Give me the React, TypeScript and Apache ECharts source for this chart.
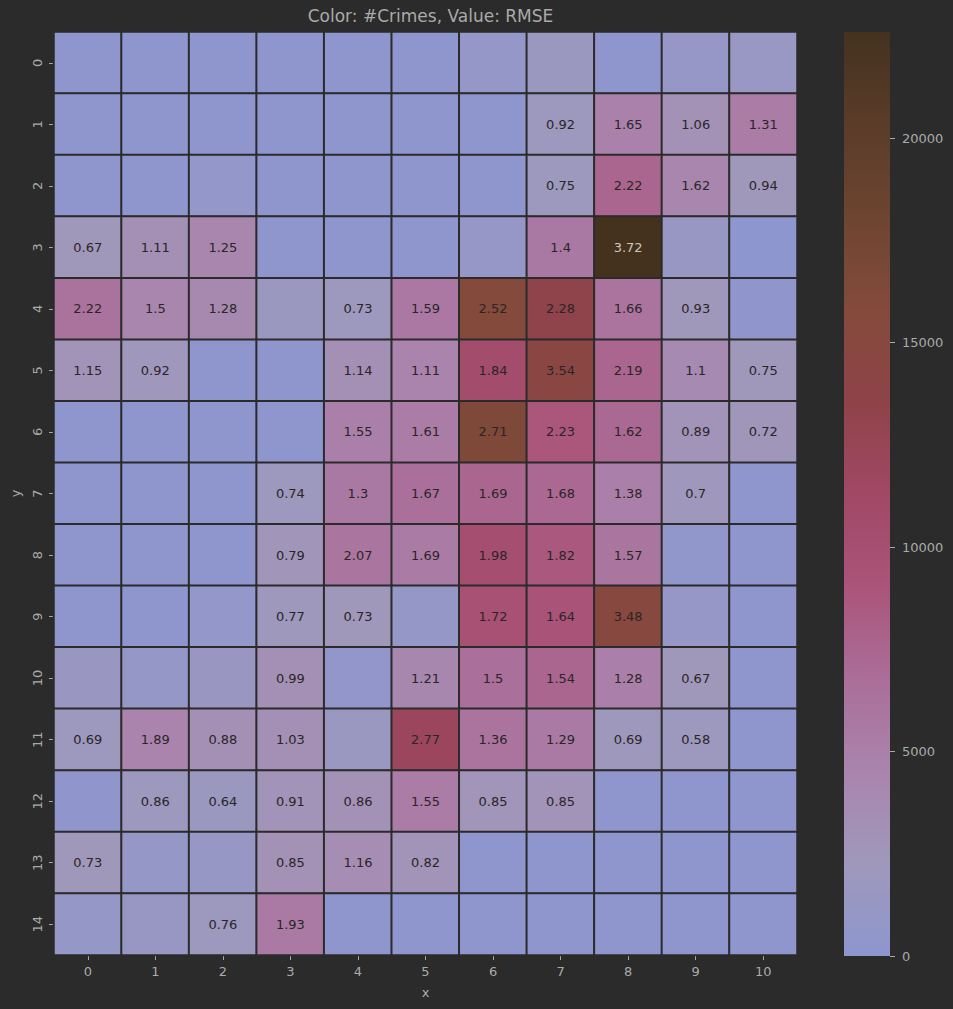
import React, { useEffect, useRef } from "react";
import * as echarts from "echarts";

const xLabels = ["0", "1", "2", "3", "4", "5", "6", "7", "8", "9", "10"];
const yLabels = ["0", "1", "2", "3", "4", "5", "6", "7", "8", "9", "10", "11", "12", "13", "14"];

const crimes: number[][] = [
  [150, 150, 150, 150, 150, 150, 800, 1700, 100, 1000, 1400],
  [150, 150, 150, 150, 150, 150, 150, 2000, 4800, 3000, 5300],
  [150, 150, 700, 150, 150, 150, 150, 2000, 7500, 4300, 2300],
  [2300, 3300, 4300, 150, 150, 150, 1000, 5600, 22600, 1300, 50],
  [6300, 4300, 4000, 1700, 2000, 5800, 15800, 13400, 6200, 2300, 300],
  [2700, 2200, 150, 150, 3300, 4500, 10600, 14500, 7500, 3800, 2300],
  [150, 150, 150, 150, 5000, 5300, 16300, 8900, 7200, 2800, 2500],
  [150, 150, 150, 2000, 5600, 6700, 7500, 7300, 5000, 2200, 150],
  [150, 150, 150, 2600, 6000, 5400, 10200, 8700, 6000, 400, 150],
  [150, 150, 700, 2100, 2300, 900, 9600, 9200, 15200, 1000, 150],
  [1500, 900, 1500, 3200, 500, 4200, 6700, 7500, 4900, 2300, 150],
  [2000, 4500, 3200, 3300, 1600, 12000, 6200, 5500, 2100, 2000, 150],
  [300, 2000, 1700, 2800, 3000, 5300, 2600, 2800, 150, 150, 150],
  [2300, 900, 1100, 3000, 3500, 2700, 150, 150, 150, 150, 150],
  [900, 1300, 2000, 5500, 150, 150, 150, 150, 150, 150, 150],
];

const n = null;
// RMSE annotations
const rmse: (number | null)[][] = [
  [n, n, n, n, n, n, n, n, n, n, n],
  [n, n, n, n, n, n, n, 0.92, 1.65, 1.06, 1.31],
  [n, n, n, n, n, n, n, 0.75, 2.22, 1.62, 0.94],
  [0.67, 1.11, 1.25, n, n, n, n, 1.4, 3.72, n, n],
  [2.22, 1.5, 1.28, n, 0.73, 1.59, 2.52, 2.28, 1.66, 0.93, n],
  [1.15, 0.92, n, n, 1.14, 1.11, 1.84, 3.54, 2.19, 1.1, 0.75],
  [n, n, n, n, 1.55, 1.61, 2.71, 2.23, 1.62, 0.89, 0.72],
  [n, n, n, 0.74, 1.3, 1.67, 1.69, 1.68, 1.38, 0.7, n],
  [n, n, n, 0.79, 2.07, 1.69, 1.98, 1.82, 1.57, n, n],
  [n, n, n, 0.77, 0.73, n, 1.72, 1.64, 3.48, n, n],
  [n, n, n, 0.99, n, 1.21, 1.5, 1.54, 1.28, 0.67, n],
  [0.69, 1.89, 0.88, 1.03, n, 2.77, 1.36, 1.29, 0.69, 0.58, n],
  [n, 0.86, 0.64, 0.91, 0.86, 1.55, 0.85, 0.85, n, n, n],
  [0.73, n, n, 0.85, 1.16, 0.82, n, n, n, n, n],
  [n, n, 0.76, 1.93, n, n, n, n, n, n, n],
];

const colorMin = 0;
const colorMax = 22600;
const colorTicks = [0, 5000, 10000, 15000, 20000];

const palette = [
  "#8e96cf",
  "#9f98bb",
  "#aa84ad",
  "#aa6e99",
  "#ab5479",
  "#a14866",
  "#8e4348",
  "#844a3b",
  "#6d4531",
  "#5a3c29",
  "#44321f",
];

const BG = "#2b2b2b";
const FG = "#aaaaaa";
const FONT = "DejaVu Sans";

export default function App() {
  const ref = useRef<HTMLDivElement>(null);

  useEffect(() => {
    if (!ref.current) return;
    const chart = echarts.init(ref.current, null, { renderer: "svg" });

    const data: any[] = [];
    crimes.forEach((row, yi) => {
      row.forEach((v, xi) => {
        data.push({
          value: [xi, yi, v],
          rmse: rmse[yi][xi],
          label: { color: v > 19000 ? "#cfc6b8" : "#2a2626" },
        });
      });
    });

    const gridLeft = 54;
    const gridTop = 32;
    const gridW = 743;
    const gridH = 923;
    const cbLeft = 844;
    const cbW = 46;
    const cbH = 924;

    const stops = palette.map((c, i) => ({ offset: i / (palette.length - 1), color: c }));

    chart.setOption({
      animation: false,
      backgroundColor: BG,
      textStyle: { fontFamily: FONT },
      title: {
        text: "Color: #Crimes, Value: RMSE",
        left: gridLeft + gridW / 2,
        textAlign: "center",
        top: 2,
        textStyle: { color: FG, fontSize: 17, fontWeight: "normal", fontFamily: FONT },
      },
      grid: [
        { left: gridLeft, top: gridTop, width: gridW, height: gridH },
        { left: cbLeft, top: gridTop, width: cbW, height: cbH },
      ],
      xAxis: [
        {
          type: "category",
          gridIndex: 0,
          data: xLabels,
          position: "bottom",
          name: "x",
          nameLocation: "middle",
          nameGap: 31,
          nameTextStyle: { color: FG, fontSize: 13, fontFamily: FONT },
          axisLine: { show: false },
          axisTick: { show: true, alignWithLabel: true, length: 5, lineStyle: { color: FG } },
          axisLabel: { color: FG, fontSize: 13, margin: 10, fontFamily: FONT },
          splitLine: { show: false },
        },
        {
          type: "category",
          gridIndex: 1,
          data: ["cb"],
          show: false,
        },
      ],
      yAxis: [
        {
          type: "category",
          gridIndex: 0,
          data: yLabels,
          inverse: true,
          name: "y",
          nameLocation: "middle",
          nameGap: 32,
          nameRotate: 90,
          nameTextStyle: { color: FG, fontSize: 13, fontFamily: FONT },
          axisLine: { show: false },
          axisTick: { show: true, alignWithLabel: true, length: 5, lineStyle: { color: FG } },
          axisLabel: { color: FG, fontSize: 13, margin: 10, rotate: 90, fontFamily: FONT },
          splitLine: { show: false },
        },
        {
          type: "value",
          gridIndex: 1,
          min: colorMin,
          max: colorMax,
          interval: 5000,
          position: "right",
          axisLine: { show: false },
          axisTick: { show: true, length: 5, lineStyle: { color: FG }, customValues: colorTicks },
          axisLabel: {
            color: FG,
            fontSize: 13,
            margin: 12,
            fontFamily: FONT,
            customValues: colorTicks,
            formatter: (v: number) => String(v),
          },
          splitLine: { show: false },
        },
      ],
      visualMap: {
        show: false,
        type: "continuous",
        min: colorMin,
        max: colorMax,
        dimension: 2,
        seriesIndex: 0,
        inRange: { color: palette },
      },
      graphic: [
        {
          type: "rect",
          shape: { x: cbLeft, y: gridTop, width: cbW, height: cbH },
          style: { fill: new echarts.graphic.LinearGradient(0, 1, 0, 0, stops) },
          z: -1,
          silent: true,
        },
      ],
      series: [
        {
          type: "heatmap",
          xAxisIndex: 0,
          yAxisIndex: 0,
          data,
          itemStyle: { borderColor: BG, borderWidth: 2 },
          label: {
            show: true,
            fontSize: 13,
            fontFamily: FONT,
            formatter: (p: any) => (p.data.rmse == null ? "" : String(p.data.rmse)),
          },
          emphasis: { disabled: true },
        },
      ],
    });

    return () => chart.dispose();
  }, []);

  return (
    <div
      ref={ref}
      style={{ position: "fixed", left: 0, top: 0, width: 953, height: 1009 }}
    />
  );
}
